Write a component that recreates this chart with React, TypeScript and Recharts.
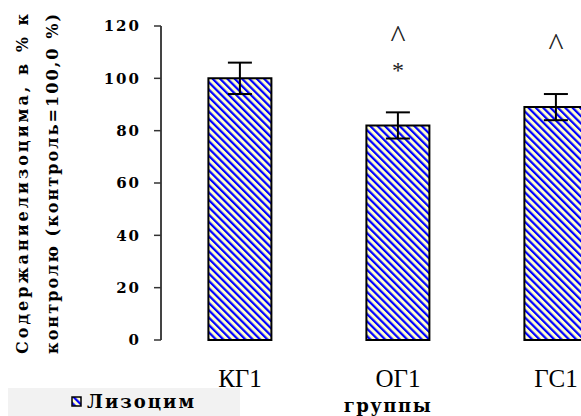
import { BarChart, Bar, XAxis, YAxis, ErrorBar, ReferenceDot } from "recharts";

const groups = ["КГ1", "ОГ1", "ГС1"];
const lysozyme = [100, 82, 89];
const lysozymeErr = [6, 5, 5];
const yTicks = [0, 20, 40, 60, 80, 100, 120];
const bandTicks = [0, 1, 2, 3];

// significance marks: group, level, symbol
const marks: [string, number, string][] = [
  ["ОГ1", 116, "^"],
  ["ОГ1", 103, "*"],
  ["ГС1", 113, "^"],
];

const serif = '"Liberation Serif", "Times New Roman", serif';
const boldSerif = '"DejaVu Serif", "Liberation Serif", serif';

const data = groups.map((g, i) => ({ group: g, value: lysozyme[i], err: lysozymeErr[i] }));

function YTitle({ viewBox }: any) {
  const cy = viewBox.y + viewBox.height / 2 + 1;
  const common = {
    fontFamily: boldSerif,
    fontWeight: 700,
    fontSize: 16,
    fill: "#000",
    textAnchor: "middle" as const,
    textLength: 340,
    lengthAdjust: "spacing",
  };
  return (
    <g>
      <text {...common} x={0} y={0} transform={`translate(28 ${cy}) rotate(-90)`}>
        Содержаниелизоцима, в % к
      </text>
      <text {...common} x={0} y={0} transform={`translate(58 ${cy}) rotate(-90)`}>
        контролю (контроль=100,0 %)
      </text>
    </g>
  );
}

function MarkLabel({ viewBox, value, size }: any) {
  return (
    <text
      x={viewBox.x}
      y={viewBox.y}
      textAnchor="middle"
      dominantBaseline="central"
      fontFamily={serif}
      fontSize={size}
      fill="#222"
    >
      {value}
    </text>
  );
}

export default function App() {
  return (
    <div
      style={{
        position: "fixed",
        left: 0,
        top: 0,
        width: 581,
        height: 416,
        overflow: "hidden",
        background: "#fff",
      }}
    >
      <svg width={0} height={0} style={{ position: "absolute" }}>
        <defs>
          <pattern
            id="stripes"
            patternUnits="userSpaceOnUse"
            width={5.2}
            height={5.2}
            patternTransform="rotate(-45)"
          >
            <rect width={5.2} height={5.2} fill="#ffffcc" />
            <rect width={2.2} height={5.2} fill="#0000ff" />
          </pattern>
        </defs>
      </svg>
      <BarChart
        width={640}
        height={416}
        data={data}
        margin={{ top: 26, right: 5, bottom: 0, left: 61 }}
        barCategoryGap="30%"
      >
        <XAxis
          xAxisId="band"
          type="number"
          domain={[0, 3]}
          ticks={bandTicks}
          tick={false}
          tickSize={7}
          height={0}
          axisLine={{ stroke: "#000", strokeWidth: 2 }}
          tickLine={{ stroke: "#333", strokeWidth: 1.5 }}
        />
        <XAxis
          xAxisId="cat"
          dataKey="group"
          axisLine={false}
          tickLine={false}
          tickSize={0}
          tickMargin={29}
          height={76}
          tick={{ fontFamily: serif, fontSize: 25, fill: "#000" }}
          label={{
            value: "группы",
            position: "insideBottom",
            offset: 4,
            dx: -10,
            style: { fontFamily: boldSerif, fontSize: 18, fontWeight: 700, letterSpacing: 1.5, fill: "#000" },
          }}
        />
        <YAxis
          domain={[0, 120]}
          ticks={yTicks}
          width={100}
          tickSize={7}
          tickMargin={13}
          axisLine={{ stroke: "#444", strokeWidth: 2 }}
          tickLine={{ stroke: "#333", strokeWidth: 1.5 }}
          tick={{ fontFamily: boldSerif, fontSize: 15, fontWeight: 700, letterSpacing: 2, fill: "#000" }}
          label={<YTitle />}
        />
        <Bar
          xAxisId="cat"
          dataKey="value"
          fill="url(#stripes)"
          stroke="#000"
          strokeWidth={2}
          isAnimationActive={false}
        >
          <ErrorBar dataKey="err" width={12} stroke="#000" strokeWidth={2} />
        </Bar>
        {marks.map(([g, v, s], i) => (
          <ReferenceDot
            key={i}
            xAxisId="cat"
            x={g}
            y={v}
            r={0}
            stroke="none"
            fill="none"
            label={<MarkLabel value={s} size={s === "*" ? 24 : 32} />}
          />
        ))}
      </BarChart>
      <div
        style={{
          position: "absolute",
          left: 8,
          top: 388,
          width: 232,
          height: 28,
          background: "#f2f2f2",
        }}
      />
      <div
        style={{
          position: "absolute",
          left: 71,
          top: 391,
          display: "flex",
          alignItems: "center",
          fontFamily: boldSerif,
          fontWeight: 700,
          fontSize: 18,
          letterSpacing: 2,
          color: "#000",
        }}
      >
        <svg width={11} height={11} style={{ marginRight: 5 }}>
          <rect x={1} y={1} width={9} height={9} fill="url(#stripes)" stroke="#000" strokeWidth={1.5} />
        </svg>
        Лизоцим
      </div>
    </div>
  );
}
